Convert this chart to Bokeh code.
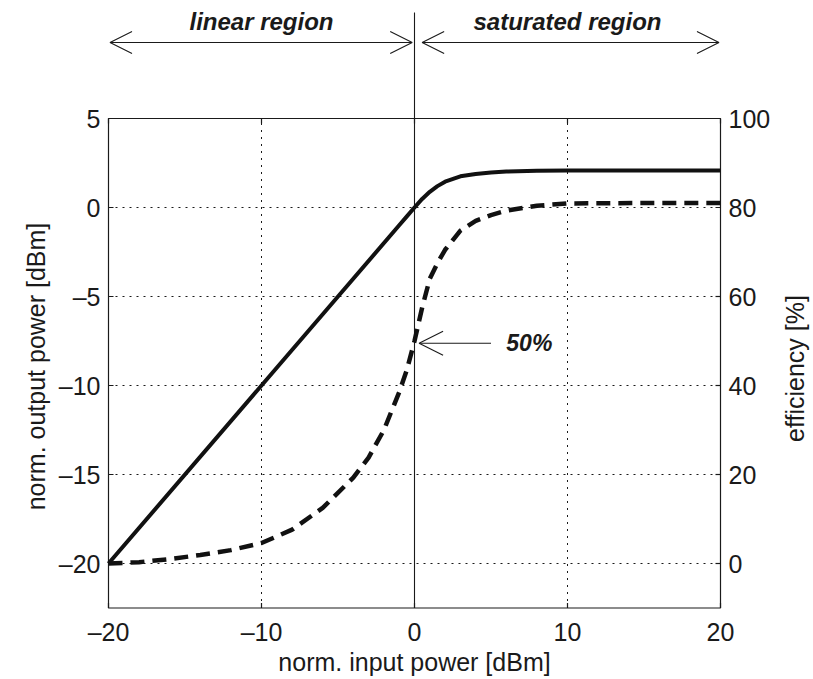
import math
import numpy as np
from bokeh.plotting import figure
from bokeh.models import Range1d, Arrow, OpenHead, ColumnDataSource
from bokeh.core.properties import value
from bokeh.embed import file_html
from bokeh.resources import INLINE

# ---------------- data ----------------
pin = [-20, -10, -5, -1, -0.5, 0, 0.5, 1, 1.5, 2, 3, 4, 5, 6, 8, 10, 15, 20]
pout = [-20, -10, -5, -1, -0.5, 0, 0.48, 0.88, 1.2, 1.45, 1.75, 1.88, 1.96, 2.02, 2.06, 2.08, 2.08, 2.08]

eff_x = [-20, -18, -16, -14, -12, -10, -8, -6, -4, -3, -2, -1, -0.5, 0, 0.5, 1, 1.5, 2, 3, 4, 5, 6, 8, 10, 15, 20]
eff = [0, 0.3, 1.0, 1.9, 3.0, 4.6, 7.6, 12.5, 19.3, 23.8, 30.0, 38.5, 43.5, 50, 57.5, 64, 67.5, 70.5, 74.8, 77, 78.3, 79.3, 80.4, 80.9, 81, 81]

x_ticks = [-20, -10, 0, 10, 20]
y_ticks = [-20, -15, -10, -5, 0, 5]
eff_ticks = [0, 20, 40, 60, 80, 100]

x_title = "norm. input power [dBm]"
y_title = "norm. output power [dBm]"
eff_title = "efficiency [%]"

region_labels = ["linear region", "saturated region"]
region_centers = [-10, 10]
marker_label = "50%"
marker_level = 49.5

# ---------------- layout constants (pixel <-> data) ----------------
X_MIN, X_MAX = -20, 20
Y_MIN, Y_TOP_AX = -22.5, 5
PX, PY = 15.3, 17.8            # pixels per data unit
def xpx(px):
    return X_MIN + (px - 108) / PX
def ypx(py):
    return (207 - py) / PY
def to_eff(v):
    return (v + 20) * 4
def fmt(t):
    return str(t).replace("-", "\u2013")

FONT = "Liberation Sans"
INK = "#1a1a1a"
FS = "25px"

p = figure(width=813, height=679, output_backend="svg", toolbar_location=None,
           x_range=Range1d(xpx(0), xpx(813)), y_range=Range1d(ypx(679), ypx(0)),
           x_axis_location=None, y_axis_location=None,
           min_border_left=0, min_border_right=0, min_border_top=0, min_border_bottom=0,
           background_fill_color="white", border_fill_color="white")
p.outline_line_color = None
p.grid.visible = False
p.extra_y_ranges = {"eff": Range1d(to_eff(ypx(679)), to_eff(ypx(0)))}

txt = dict(text_font=value(FONT), text_font_size=FS, text_color=INK, text_baseline="middle")

# ---- grid lines ----
gx = [t for t in x_ticks if t not in (X_MIN, 0, X_MAX)]
gy = [t for t in y_ticks if t != Y_TOP_AX]
p.segment(x0=gx, y0=[Y_MIN] * len(gx), x1=gx, y1=[Y_TOP_AX] * len(gx),
          line_color=INK, line_width=1, line_dash="2 5")
p.segment(x0=[X_MIN] * len(gy), y0=gy, x1=[X_MAX] * len(gy), y1=gy,
          line_color=INK, line_width=1, line_dash="2 5")

# ---- axes box and inward ticks ----
p.quad(left=[X_MIN], right=[X_MAX], bottom=[Y_MIN], top=[Y_TOP_AX],
       fill_color=None, line_color=INK, line_width=1.2)
tk_y = 5 / PY
tk_x = 5 / PX
p.segment(x0=x_ticks, y0=[Y_MIN] * len(x_ticks), x1=x_ticks, y1=[Y_MIN + tk_y] * len(x_ticks),
          line_color=INK, line_width=1.2)
p.segment(x0=x_ticks, y0=[Y_TOP_AX] * len(x_ticks), x1=x_ticks, y1=[Y_TOP_AX - tk_y] * len(x_ticks),
          line_color=INK, line_width=1.2)
p.segment(x0=[X_MIN] * len(y_ticks), y0=y_ticks, x1=[X_MIN + tk_x] * len(y_ticks), y1=y_ticks,
          line_color=INK, line_width=1.2)
p.segment(x0=[X_MAX] * len(eff_ticks), y0=eff_ticks, x1=[X_MAX - tk_x] * len(eff_ticks), y1=eff_ticks,
          y_range_name="eff", line_color=INK, line_width=1.2)

# ---- tick labels ----
p.text(x=x_ticks, y=[ypx(631)] * len(x_ticks), text=[fmt(t) for t in x_ticks],
       text_align="center", **txt)
p.text(x=[xpx(100)] * len(y_ticks), y=y_ticks, text=[fmt(t) for t in y_ticks],
       text_align="right", **txt)
p.text(x=[xpx(728)] * len(eff_ticks), y=eff_ticks, text=[fmt(t) for t in eff_ticks],
       y_range_name="eff", text_align="left", **txt)

# ---- axis titles ----
p.text(x=[0], y=[ypx(661)], text=[x_title], text_align="center", **txt)
p.text(x=[xpx(35)], y=[ypx(366)], text=[y_title], angle=math.pi / 2, text_align="center", **txt)
p.text(x=[xpx(794)], y=[ypx(368)], text=[eff_title], angle=math.pi / 2, text_align="center", **txt)

# ---- vertical divider at 0 dBm ----
p.segment(x0=[0], y0=[Y_MIN], x1=[0], y1=[ypx(12)], line_color=INK, line_width=1.1)

# ---- curves ----
p.line(pin, pout, line_color="#111111", line_width=4, line_join="round")
p.line(eff_x, eff, y_range_name="eff", line_color="#111111", line_width=4.5, line_dash="14 8")

# ---- region arrows and labels ----
arrow_y = ypx(42)
for xs, xe in ((-19.9, -0.15), (0.5, 19.9)):
    p.add_layout(Arrow(x_start=xs, y_start=arrow_y, x_end=xe, y_end=arrow_y,
                       start=OpenHead(size=22, line_width=1.1, line_color=INK),
                       end=OpenHead(size=22, line_width=1.1, line_color=INK),
                       line_color=INK, line_width=1.1))

label_src = ColumnDataSource(dict(x=region_centers, y=[ypx(21)] * 2, t=region_labels))
p.text(x="x", y="y", text="t", source=label_src, text_font=value(FONT), text_font_style="bold italic",
       text_font_size="24px", text_align="center", text_baseline="middle", text_color=INK)

# ---- 50% marker ----
p.add_layout(Arrow(x_start=5.0, y_start=marker_level, x_end=0.3, y_end=marker_level, y_range_name="eff",
                   end=OpenHead(size=24, line_width=1.1, line_color=INK),
                   line_color=INK, line_width=1.1))
p.text(x=[6.0], y=[marker_level], text=[marker_label], y_range_name="eff", text_font=value(FONT),
       text_font_style="bold italic", text_font_size="23px", text_align="left",
       text_baseline="middle", text_color=INK)

open("out.html", "w").write(file_html(p, INLINE))
